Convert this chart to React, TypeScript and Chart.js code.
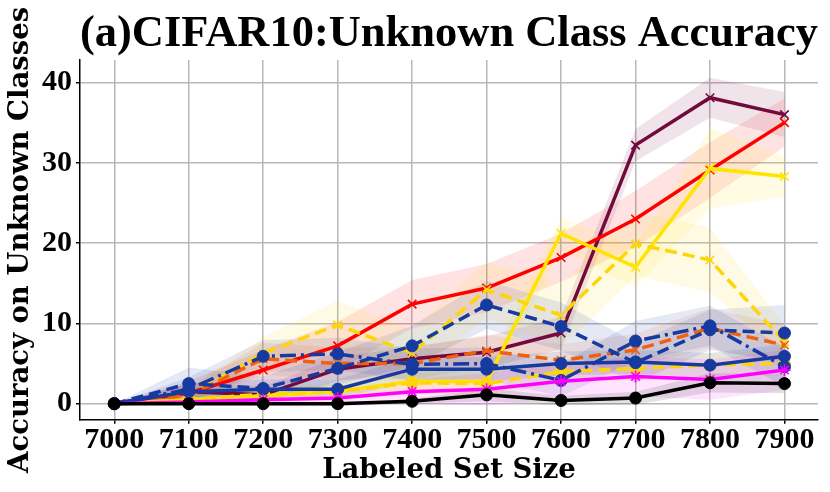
import React, { useRef, useEffect } from "react";
import { Chart, registerables } from "chart.js";

Chart.register(...registerables);

// labeled set sizes (x) and axis ticks
const sizes = [7000, 7100, 7200, 7300, 7400, 7500, 7600, 7700, 7800, 7900];
const xTicks = [7000, 7100, 7200, 7300, 7400, 7500, 7600, 7700, 7800, 7900];
const yTicks = [0, 10, 20, 30, 40];

// mean accuracy on unknown classes, and the half-width of the shaded band
const maroonAcc = [0, 1.5, 1.1, 4.3, 5.6, 6.4, 8.8, 32.2, 38.1, 36.0];
const maroonStd = [0, 1.0, 1.0, 1.5, 1.5, 2.0, 2.0, 2.0, 2.5, 2.8];
const redAcc = [0, 1.3, 4.2, 7.2, 12.4, 14.4, 18.2, 23.0, 29.1, 35.0];
const redStd = [0, 1.5, 2.5, 3.0, 3.0, 3.0, 3.0, 3.5, 3.5, 3.0];
const yellowAcc = [0, 0.5, 1.0, 1.5, 2.8, 2.8, 21.2, 17.0, 29.3, 28.3];
const yellowStd = [0, 0.5, 1.0, 1.2, 1.5, 1.5, 2.0, 2.5, 5.0, 2.5];
const goldDashAcc = [0, 1.0, 6.3, 9.8, 6.3, 14.2, 11.0, 19.9, 17.9, 7.7];
const goldDashStd = [0, 1.0, 2.0, 3.0, 3.0, 3.5, 4.0, 4.0, 4.0, 2.0];
const orangeAcc = [0, 1.0, 5.6, 5.0, 5.0, 6.6, 5.4, 6.7, 9.4, 7.3];
const orangeStd = [0, 1.0, 2.0, 2.0, 2.0, 2.0, 2.0, 2.0, 2.5, 2.5];
const goldLowAcc = [0, 0.5, 1.2, 1.5, 2.6, 2.5, 4.0, 4.4, 4.8, 5.0];
const goldLowStd = [0, 0.5, 0.8, 1.0, 1.2, 1.5, 1.5, 1.5, 1.5, 1.5];
const blueDashAcc = [0, 2.5, 1.9, 4.4, 7.2, 12.3, 9.6, 5.1, 9.2, 8.8];
const blueDashStd = [0, 2.0, 1.5, 2.0, 2.5, 3.0, 3.0, 2.5, 2.5, 3.5];
const blueDotAcc = [0, 1.8, 5.9, 6.2, 4.9, 5.0, 2.9, 7.8, 9.7, 4.6];
const blueDotStd = [0, 1.5, 2.0, 2.0, 2.0, 2.0, 2.0, 2.5, 2.5, 2.5];
const blueAcc = [0, 1.5, 1.8, 1.8, 4.3, 4.3, 5.0, 5.2, 4.8, 5.9];
const blueStd = [0, 1.0, 1.2, 1.2, 1.5, 1.5, 1.5, 1.5, 1.5, 1.5];
const magentaAcc = [0, 0.2, 0.5, 0.7, 1.5, 1.8, 2.8, 3.4, 3.0, 4.2];
const magentaStd = [0, 0.4, 0.8, 1.0, 1.5, 2.0, 2.3, 2.5, 2.5, 2.5];
const blackAcc = [0, 0, 0, 0, 0.3, 1.1, 0.4, 0.7, 2.6, 2.5];
const blackStd = [0, 0, 0, 0, 0.3, 0.8, 0.6, 0.8, 1.2, 1.2];

const DASH = [12, 6];
const DASHDOT = [16, 5, 3, 5];

// drawing order: first = bottom
const series = [
  { acc: maroonAcc, std: maroonStd, rgb: "114,10,60", dash: [], marker: "crossRot" },
  { acc: redAcc, std: redStd, rgb: "255,0,0", dash: [], marker: "crossRot" },
  { acc: yellowAcc, std: yellowStd, rgb: "255,228,0", dash: [], marker: "crossRot" },
  { acc: goldDashAcc, std: goldDashStd, rgb: "252,214,10", dash: DASH, marker: "crossRot" },
  { acc: orangeAcc, std: orangeStd, rgb: "240,96,15", dash: DASH, marker: "crossRot" },
  { acc: goldLowAcc, std: goldLowStd, rgb: "252,214,10", dash: DASH, marker: "circle" },
  { acc: blueDashAcc, std: blueDashStd, rgb: "22,58,160", dash: DASH, marker: "circle" },
  { acc: blueDotAcc, std: blueDotStd, rgb: "22,58,160", dash: DASHDOT, marker: "circle" },
  { acc: blueAcc, std: blueStd, rgb: "22,58,160", dash: [], marker: "circle" },
  { acc: magentaAcc, std: magentaStd, rgb: "255,0,255", dash: [], marker: "star" },
  { acc: blackAcc, std: blackStd, rgb: "0,0,0", dash: [], marker: "circle" },
];

const pts = (vals: number[]) => sizes.map((x, i) => ({ x, y: vals[i] }));

const buildDatasets = () => {
  const out: any[] = [];
  const n = series.length;
  series.forEach((s, k) => {
    const upper = s.acc.map((v, i) => v + s.std[i]);
    const lower = s.acc.map((v, i) => Math.max(v - s.std[i], -0.3));
    out.push({
      data: pts(upper),
      borderWidth: 0,
      pointRadius: 0,
      fill: false,
      order: 200 - k * 2,
    });
    out.push({
      data: pts(lower),
      borderWidth: 0,
      pointRadius: 0,
      fill: "-1",
      backgroundColor: `rgba(${s.rgb},0.11)`,
      order: 199 - k * 2,
    });
    const col = `rgb(${s.rgb})`;
    const isCircle = s.marker === "circle";
    out.push({
      data: pts(s.acc),
      borderColor: col,
      borderWidth: 3.5,
      borderDash: s.dash,
      backgroundColor: col,
      pointStyle: s.marker,
      pointRadius: isCircle ? 6 : 6,
      pointBorderWidth: isCircle ? 1 : 1.6,
      pointBackgroundColor: col,
      pointBorderColor: col,
      fill: false,
      order: n - k,
    });
  });
  return out;
};

const tickFont = { family: "'Liberation Serif', serif", size: 30, weight: "bold" as const, lineHeight: 1.0 };
const labelFont = { family: "'DejaVu Serif', serif", size: 27.5, weight: "bold" as const };

const App = () => {
  const canvasRef = useRef<HTMLCanvasElement>(null);

  useEffect(() => {
    document.body.style.margin = "0";
    const ctx = canvasRef.current?.getContext("2d");
    if (!ctx) return;
    const chart = new Chart(ctx, {
      type: "line",
      data: { datasets: buildDatasets() },
      options: {
        animation: false,
        responsive: true,
        maintainAspectRatio: false,
        layout: { padding: { left: 4, right: 12, top: 12, bottom: 6 } },
        plugins: {
          legend: { display: false },
          tooltip: { enabled: false },
          title: {
            display: true,
            text: "(a)CIFAR10:Unknown Class Accuracy",
            fullSize: false,
            color: "#000",
            font: { family: "'Liberation Serif', serif", size: 45, weight: "bold", lineHeight: 1.0 },
            padding: { top: 0, bottom: 3 },
          },
        },
        scales: {
          x: {
            type: "linear",
            min: 6954,
            max: 7945,
            afterBuildTicks: (scale: any) => {
              scale.ticks = xTicks.map((v) => ({ value: v }));
            },
            grid: { color: "#b8b8b8", lineWidth: 1.5, tickColor: "#000", tickLength: 4 },
            border: { display: true, color: "#000", width: 1.5 },
            ticks: {
              color: "#000",
              font: tickFont,
              padding: 1,
              maxRotation: 0,
              autoSkip: false,
              callback: (v: any) => String(v),
            },
            title: {
              display: true,
              text: "Labeled Set Size",
              color: "#000",
              font: { ...labelFont, lineHeight: 1.1 },
              padding: { top: 0, bottom: 0 },
            },
          },
          y: {
            type: "linear",
            min: -2,
            max: 42.8,
            afterBuildTicks: (scale: any) => {
              scale.ticks = yTicks.map((v) => ({ value: v }));
            },
            grid: { color: "#b8b8b8", lineWidth: 1.5, tickColor: "#000", tickLength: 4 },
            border: { display: true, color: "#000", width: 1.5 },
            ticks: { color: "#000", font: tickFont, padding: 4, callback: (v: any) => String(v) },
            title: { display: true, text: "Accuracy on Unknown Classes", color: "#000", font: labelFont, padding: { top: 0, bottom: 1 } },
          },
        },
      },
    });
    return () => {
      chart.destroy();
    };
  }, []);

  return (
    <div style={{ position: "relative", width: 830, height: 492 }}>
      <canvas ref={canvasRef}></canvas>
    </div>
  );
};

export default App;
